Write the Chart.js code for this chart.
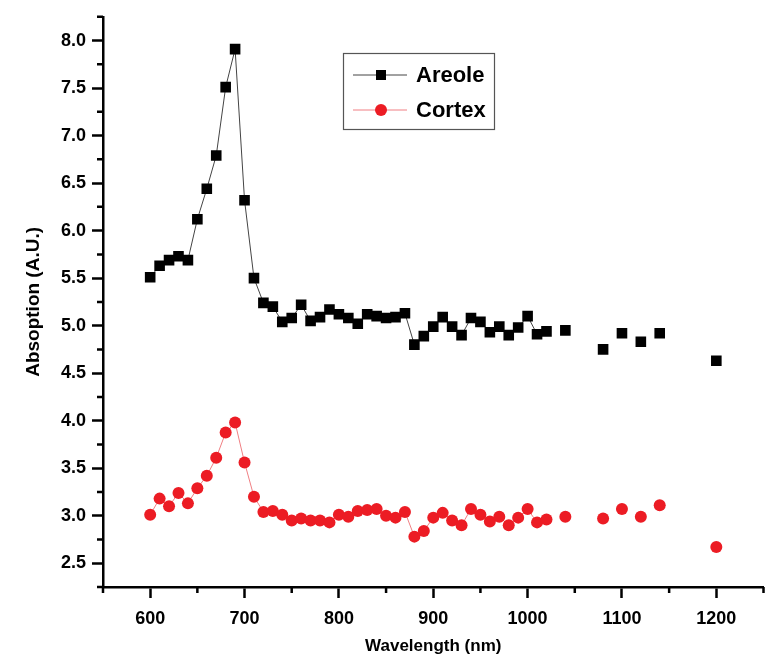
<!DOCTYPE html>
<html>
<head>
<meta charset="utf-8">
<script src="https://cdn.jsdelivr.net/npm/chart.js@4.4.1/dist/chart.umd.min.js"></script>
<style>
  html, body { margin: 0; padding: 0; background: #fff; }
</style>
</head>
<body>
<canvas id="absChart" width="771" height="660"></canvas>
<script>
// wavelengths (nm) shared by both series
const wavelengths = [600, 610, 620, 630, 640, 650, 660, 670, 680, 690,
                     700, 710, 720, 730, 740, 750, 760, 770, 780, 790,
                     800, 810, 820, 830, 840, 850, 860, 870, 880, 890,
                     900, 910, 920, 930, 940, 950, 960, 970, 980, 990,
                     1000, 1010, 1020, 1040, 1080, 1100, 1120, 1140, 1200];

const areole = [5.51, 5.63, 5.69, 5.73, 5.69, 6.12, 6.44, 6.79, 7.51, 7.91,
                6.32, 5.50, 5.24, 5.20, 5.04, 5.08, 5.22, 5.05, 5.09, 5.17,
                5.12, 5.08, 5.02, 5.12, 5.10, 5.08, 5.09, 5.13, 4.80, 4.89,
                4.99, 5.09, 4.99, 4.90, 5.08, 5.04, 4.93, 4.99, 4.90, 4.98,
                5.10, 4.91, 4.94, 4.95, 4.75, 4.92, 4.83, 4.92, 4.63];

const cortex = [3.01, 3.18, 3.10, 3.24, 3.13, 3.29, 3.42, 3.61, 3.875, 3.98,
                3.56, 3.20, 3.04, 3.05, 3.01, 2.95, 2.97, 2.95, 2.95, 2.93,
                3.01, 2.99, 3.05, 3.06, 3.07, 3.00, 2.98, 3.04, 2.78, 2.84,
                2.98, 3.03, 2.95, 2.90, 3.07, 3.01, 2.94, 2.99, 2.90, 2.98,
                3.07, 2.93, 2.96, 2.99, 2.97, 3.07, 2.99, 3.11, 2.67];

const xTicks = [600, 700, 800, 900, 1000, 1100, 1200];
const xMinorTicks = [550, 650, 750, 850, 950, 1050, 1150, 1250];
const yTicks = [2.5, 3.0, 3.5, 4.0, 4.5, 5.0, 5.5, 6.0, 6.5, 7.0, 7.5, 8.0];
const yMinorTicks = [2.25, 2.75, 3.25, 3.75, 4.25, 4.75, 5.25, 5.75, 6.25, 6.75, 7.25, 7.75, 8.25];

const FONT = "'Liberation Sans', Arial, sans-serif";

function toPoints(values) {
    return values.map((v, i) => ({ x: wavelengths[i], y: v }));
}

// hide line segments across the sparse part of the scan
function gapColor(color) {
    return ctx => (ctx.p1.parsed.x - ctx.p0.parsed.x > 10 ? 'rgba(0,0,0,0)' : color);
}

// small ticks half way between the labelled ones
const minorTicks = {
    id: 'minorTicks',
    afterDraw(chart) {
        const c = chart.ctx;
        const xs = chart.scales.x, ys = chart.scales.y;
        c.save();
        c.strokeStyle = '#000';
        c.lineWidth = 2.5;
        c.beginPath();
        xMinorTicks.forEach(v => {
            const px = xs.getPixelForValue(v);
            c.moveTo(px, xs.top);
            c.lineTo(px, xs.top + 6);
        });
        yMinorTicks.forEach(v => {
            const py = ys.getPixelForValue(v);
            c.moveTo(ys.right, py);
            c.lineTo(ys.right - 6, py);
        });
        c.stroke();
        c.restore();
    }
};

// boxed legend inside the plot, Origin style
const boxLegend = {
    id: 'boxLegend',
    afterDraw(chart) {
        const c = chart.ctx;
        c.save();
        c.strokeStyle = '#555';
        c.lineWidth = 1.2;
        c.strokeRect(343.5, 53.5, 151, 76);
        const rows = [75, 110];
        chart.data.datasets.forEach((ds, i) => {
            const y = rows[i];
            c.strokeStyle = ds.borderColor;
            c.lineWidth = 1;
            c.beginPath();
            c.moveTo(353, y);
            c.lineTo(407, y);
            c.stroke();
            c.fillStyle = ds.pointBackgroundColor;
            c.beginPath();
            if (ds.pointStyle === 'rect') {
                c.rect(376, y - 5, 10, 10);
            } else {
                c.arc(381, y, 6, 0, Math.PI * 2);
            }
            c.fill();
            c.fillStyle = '#000';
            c.font = 'bold 22px ' + FONT;
            c.textBaseline = 'middle';
            c.fillText(ds.label, 416, y + 1);
        });
        c.restore();
    }
};

const ctx = document.getElementById('absChart').getContext('2d');
const absChart = new Chart(ctx, {
    type: 'line',
    data: {
        datasets: [{
            label: 'Areole',
            data: toPoints(areole),
            borderColor: '#444',
            borderWidth: 1,
            pointStyle: 'rect',
            pointRadius: 7.5,
            pointBorderWidth: 0,
            pointBackgroundColor: '#000',
            pointBorderColor: '#000',
            segment: { borderColor: gapColor('#444') }
        }, {
            label: 'Cortex',
            data: toPoints(cortex),
            borderColor: '#f07f83',
            borderWidth: 1,
            pointStyle: 'circle',
            pointRadius: 6,
            pointBorderWidth: 0,
            pointBackgroundColor: '#ec1c24',
            pointBorderColor: '#ec1c24',
            segment: { borderColor: gapColor('#f07f83') }
        }]
    },
    options: {
        responsive: false,
        animation: false,
        layout: { padding: { top: 12, right: 5, left: 0, bottom: 0 } },
        plugins: {
            legend: { display: false },
            tooltip: { enabled: false }
        },
        scales: {
            x: {
                type: 'linear',
                min: 550,
                max: 1250,
                afterBuildTicks: s => { s.ticks = xTicks.map(v => ({ value: v })); },
                afterFit: s => { s.height = 73; },
                ticks: {
                    color: '#000',
                    padding: 10,
                    callback: v => String(v),
                    font: { family: FONT, size: 18, weight: 'bold' }
                },
                grid: { drawOnChartArea: false, tickLength: 11, tickWidth: 2.5, tickColor: '#000' },
                border: { width: 2.5, color: '#000' },
                title: {
                    display: true,
                    text: 'Wavelength (nm)',
                    color: '#000',
                    font: { family: FONT, size: 17, weight: 'bold' },
                    padding: { top: 0, bottom: 3 }
                }
            },
            y: {
                min: 2.25,
                max: 8.25,
                afterBuildTicks: s => { s.ticks = yTicks.map(v => ({ value: v })); },
                afterFit: s => { s.width = 103; },
                ticks: {
                    color: '#000',
                    padding: 6,
                    callback: v => v.toFixed(1),
                    font: { family: FONT, size: 18, weight: 'bold' }
                },
                grid: { drawOnChartArea: false, tickLength: 11, tickWidth: 2.5, tickColor: '#000' },
                border: { width: 2.5, color: '#000' },
                title: {
                    display: true,
                    text: 'Absoption (A.U.)',
                    color: '#000',
                    font: { family: FONT, size: 19, weight: 'bold' },
                    padding: { top: 22, bottom: 0 }
                }
            }
        }
    },
    plugins: [minorTicks, boxLegend]
});
</script>
</body>
</html>
